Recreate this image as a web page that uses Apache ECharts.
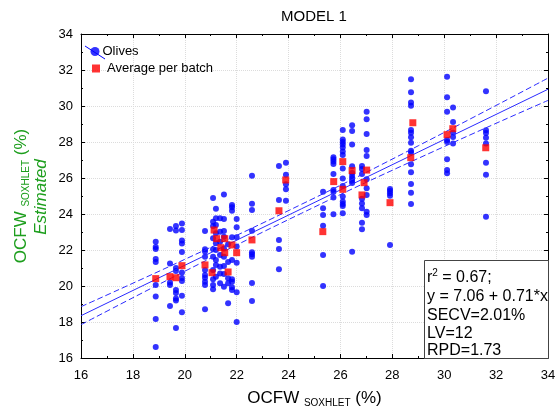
<!DOCTYPE html>
<html>
<head>
<meta charset="utf-8">
<script src="https://cdn.jsdelivr.net/npm/echarts@6/dist/echarts.min.js"></script>
<style>html,body{margin:0;padding:0;background:#fff}#c{width:557px;height:412px}</style>
</head>
<body>
<div id="c"></div>
<script>
// ---- data ----
const titleText = 'MODEL 1';
const xTicks = [16, 18, 20, 22, 24, 26, 28, 30, 32, 34];
const yTicks = [16, 18, 20, 22, 24, 26, 28, 30, 32, 34];

// individual olives: x position of each column, and the y values in that column
const oliveColX = [18.88, 19.43, 19.66, 19.89, 20.78, 21.09, 21.2, 21.36, 21.51, 21.67, 21.82, 22.0, 22.59, 23.63, 23.9,
  25.33, 25.73, 26.09, 26.45, 26.83, 27.01, 27.91, 28.72, 30.11, 30.34, 31.61];
const oliveColY = [
  [22.46, 22.17, 22.06, 21.5, 21.33, 20.06, 19.41, 18.17, 16.61],
  [23.17, 21.25, 20.19, 20.06, 18.89],
  [23.33, 23.08, 21.0, 20.83, 19.78, 19.61, 19.31, 19.19, 17.67],
  [23.47, 23.11, 22.53, 22.36, 21.89, 20.75, 20.44, 20.28, 19.46, 18.54],
  [23.06, 22.04, 21.91, 21.63, 20.89, 20.61, 20.46, 20.24, 20.06, 18.71],
  [24.89, 23.57, 23.33, 22.65, 22.04, 21.63, 20.89, 20.37, 20.06, 19.82],
  [24.29, 23.76, 23.39, 22.93, 22.37, 22.0, 21.44, 21.17, 20.52],
  [23.76, 23.02, 22.46, 21.72, 21.07, 20.7, 20.15],
  [25.09, 23.72, 23.06, 22.74, 22.09, 21.63, 21.11, 20.67, 19.96],
  [22.32, 21.33, 20.43, 20.15, 19.04],
  [24.5, 24.37, 24.18, 22.71, 21.44, 20.37, 20.24, 19.93, 19.78],
  [23.72, 23.26, 22.71, 22.2, 21.29, 19.65, 18.0],
  [26.13, 24.57, 24.22, 23.07, 21.87, 21.76, 21.63, 20.17, 19.17],
  [26.67, 24.78, 22.56, 22.06, 20.93],
  [26.85, 26.18, 25.65, 25.37, 24.74],
  [25.24, 24.32, 23.94, 23.35, 21.72, 20.0],
  [27.15, 27.04, 26.91, 26.78, 26.22, 25.33, 25.22, 24.91, 23.98],
  [28.67, 28.14, 28.0, 27.86, 27.69, 27.47, 27.28, 26.53, 25.97, 25.56, 24.97, 24.69, 24.56, 24.44, 24.04],
  [28.93, 28.61, 27.86, 26.65, 26.28, 26.11, 25.97, 25.83, 25.72, 21.9],
  [26.67, 26.5, 26.22, 24.85, 24.59, 24.32, 23.52, 23.15],
  [29.68, 29.26, 28.44, 27.56, 27.22, 25.93, 25.43, 25.06, 24.13, 23.94],
  [25.39, 25.28, 25.15, 25.02, 22.28],
  [31.48, 30.76, 30.2, 30.02, 28.67, 28.52, 28.26, 27.96, 27.52, 27.41, 26.76, 26.32, 25.67, 25.18, 24.56],
  [31.63, 30.48, 29.68, 28.11, 28.0, 27.04, 26.44, 26.26],
  [29.91, 29.11, 28.52, 28.28, 27.91],
  [30.82, 28.65, 28.5, 28.24, 27.92, 26.85, 26.18, 23.85]
];

// average per batch
const batchX = [18.88, 19.43, 19.66, 19.89, 20.78, 21.13, 21.23, 21.54, 21.39, 21.54, 21.82, 22.0, 21.05, 21.67, 22.59,
  23.63, 23.89, 25.32, 25.74, 26.09, 26.09, 26.45, 26.83, 26.91, 27.01, 27.91, 28.71, 28.79, 30.11, 30.33, 31.6];
const batchY = [20.41, 20.52, 20.46, 21.13, 21.17, 23.11, 22.63, 22.63, 22.13, 21.85, 22.28, 21.85, 20.74, 20.78, 22.56,
  24.18, 25.89, 23.02, 25.8, 26.91, 25.37, 26.41, 25.06, 25.74, 26.44, 24.63, 27.13, 29.07, 28.41, 28.74, 27.68];

// regression line and its confidence band, read at a few x positions
const fitX = [16, 20, 24.5, 29, 34];
const fitY = [18.35, 21.15, 24.29, 27.44, 30.93];
const bandUpper = [18.85, 21.48, 24.54, 27.79, 31.55];
const bandLower = [17.85, 20.82, 24.04, 27.09, 30.31];

const statsLines = ['r2', 'y = 7.06 + 0.71*x', 'SECV=2.01%', 'LV=12', 'RPD=1.73'];

// ---- build ----
const olives = [];
oliveColX.forEach((x, i) => oliveColY[i].forEach(y => olives.push([x, y])));
const batches = batchX.map((x, i) => [x, batchY[i]]);
const zip = (xs, ys) => xs.map((x, i) => [x, ys[i]]);

const FONT = '"Liberation Sans", Arial, sans-serif';
const GREEN = '#1d9e1d';

const baseAxis = {
  type: 'value', min: 16, max: 34, interval: 2,
  axisLine: { show: true, onZero: false, lineStyle: { color: '#000', width: 1 } },
  axisTick: { show: true, inside: true, length: 4, lineStyle: { color: '#000' } },
  minorTick: { show: true, splitNumber: 2, length: 2, lineStyle: { color: '#000' } },
  axisLabel: { color: '#000', fontSize: 13, fontFamily: FONT },
  splitLine: { show: false }
};

const chart = echarts.init(document.getElementById('c'), null, { renderer: 'canvas' });
chart.setOption({
  animation: false,
  backgroundColor: '#fff',
  grid: { left: 81, right: 9, top: 34, bottom: 54, containLabel: false, outerBoundsMode: 'none' },
  xAxis: [
    Object.assign({}, baseAxis, {
      position: 'bottom',
      axisLabel: { color: '#000', fontSize: 13, fontFamily: FONT, margin: 11 },
      splitLine: { show: true, lineStyle: { color: '#dcdcdc', type: 'dotted', width: 1 } },
      name: '{a|OCFW }{s|SOXHLET}{a| (%)}',
      nameLocation: 'middle', nameGap: 29,
      nameTextStyle: { rich: {
        a: { fontSize: 17, fontFamily: FONT, color: '#000', lineHeight: 20, verticalAlign: 'bottom' },
        s: { fontSize: 10, fontFamily: FONT, color: '#000', lineHeight: 20, verticalAlign: 'bottom', padding: [0, 0, -1, 0] }
      } }
    }),
    Object.assign({}, baseAxis, { position: 'top', axisLabel: { show: false } })
  ],
  yAxis: [
    Object.assign({}, baseAxis, {
      position: 'left',
      axisLabel: { color: '#000', fontSize: 13, fontFamily: FONT, margin: 8 },
      splitLine: { show: true, lineStyle: { color: '#dcdcdc', type: 'dotted', width: 1 } }
    }),
    Object.assign({}, baseAxis, { position: 'right', axisLabel: { show: false } })
  ],
  legend: [
    { data: [{ name: 'Olives', icon: 'circle' }], left: 90.5, top: 45, padding: 0, itemWidth: 9, itemHeight: 9,
      textStyle: { fontSize: 13, fontFamily: FONT, color: '#000', padding: [0, 0, 0, -2] } },
    { data: [{ name: 'Average per batch', icon: 'rect' }], left: 92, top: 62, padding: 0, itemWidth: 8, itemHeight: 8,
      textStyle: { fontSize: 13, fontFamily: FONT, color: '#000', padding: [0, 0, 0, 2] } }
  ],
  series: [
    { name: 'Olives', type: 'scatter', data: olives, symbol: 'circle', symbolSize: 6,
      itemStyle: { color: '#0000ff' }, z: 2 },
    { name: 'fit', type: 'line', data: zip(fitX, fitY), symbol: 'none', smooth: false,
      lineStyle: { color: '#2b2bff', width: 1 }, z: 3, silent: true },
    { name: 'upper', type: 'line', data: zip(fitX, bandUpper), symbol: 'none', smooth: true,
      lineStyle: { color: '#2b2bff', width: 1, type: [6, 3] }, z: 3, silent: true },
    { name: 'lower', type: 'line', data: zip(fitX, bandLower), symbol: 'none', smooth: true,
      lineStyle: { color: '#2b2bff', width: 1, type: [6, 3] }, z: 3, silent: true },
    { name: 'Average per batch', type: 'scatter', data: batches, symbol: 'rect', symbolSize: 7,
      itemStyle: { color: '#ff0000' }, z: 4 }
  ],
  graphic: [
    { type: 'text', x: 314, y: 17, style: { text: titleText, fontSize: 15, fontFamily: FONT, fill: '#000',
      align: 'center', verticalAlign: 'middle' } },
    { type: 'line', shape: { x1: 85, y1: 46, x2: 105, y2: 59 }, style: { stroke: '#0000ff', lineWidth: 1 }, z: 10 },
    { type: 'text', x: 20, y: 196, rotation: Math.PI / 2, style: {
      text: '{a|OCFW }{s|SOXHLET}{a| (%)}', align: 'center', verticalAlign: 'middle',
      rich: {
        a: { fontSize: 17, fontFamily: FONT, fill: GREEN, lineHeight: 20, verticalAlign: 'bottom' },
        s: { fontSize: 10, fontFamily: FONT, fill: GREEN, lineHeight: 20, verticalAlign: 'bottom', padding: [0, 0, -1, 0] }
      } } },
    { type: 'text', x: 41, y: 197, rotation: Math.PI / 2, style: {
      text: 'Estimated', fontSize: 17, fontStyle: 'italic', fontFamily: FONT, fill: GREEN,
      align: 'center', verticalAlign: 'middle' } },
    { type: 'rect', shape: { x: 424.5, y: 260.5, width: 124, height: 98 }, style: { fill: '#fff', stroke: '#444', lineWidth: 1 }, z: 20 },
    { type: 'text', x: 427, y: 277, z: 21, style: { text: '{r|r}{sup|2}{r| = 0.67;}', verticalAlign: 'middle',
      rich: { r: { fontSize: 16, fontFamily: FONT, fill: '#000', verticalAlign: 'bottom', lineHeight: 18 },
              sup: { fontSize: 10, fontFamily: FONT, fill: '#000', verticalAlign: 'top', lineHeight: 18, padding: [0, 0, 6, 0] } } } },
    { type: 'text', x: 427, y: 296.5, z: 21, style: { text: statsLines[1], fontSize: 16, fontFamily: FONT, fill: '#000', verticalAlign: 'middle' } },
    { type: 'text', x: 427, y: 315.5, z: 21, style: { text: statsLines[2], fontSize: 16, fontFamily: FONT, fill: '#000', verticalAlign: 'middle' } },
    { type: 'text', x: 427, y: 334, z: 21, style: { text: statsLines[3], fontSize: 16, fontFamily: FONT, fill: '#000', verticalAlign: 'middle' } },
    { type: 'text', x: 427, y: 351, z: 21, style: { text: statsLines[4], fontSize: 16, fontFamily: FONT, fill: '#000', verticalAlign: 'middle' } }
  ]
});
</script>
</body>
</html>
